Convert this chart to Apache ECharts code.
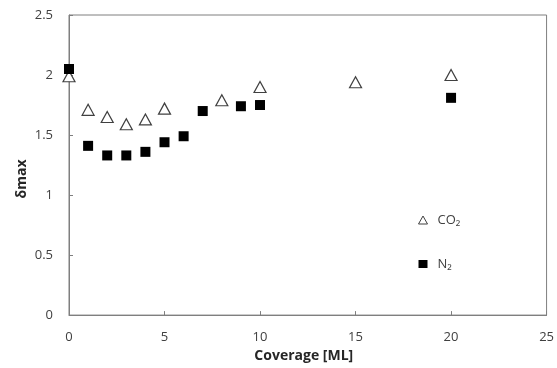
<!DOCTYPE html>
<html>
<head>
<meta charset="utf-8">
<script src="https://cdn.jsdelivr.net/npm/echarts@6/dist/echarts.min.js"></script>
<style>
html,body{margin:0;padding:0;background:#fff;}
#chart{width:557px;height:368px;}
</style>
</head>
<body>
<div id="chart"></div>
<script>
// data
var co2_x=[0,1,2,3,4,5,8,10,15,20];
var co2_y=[1.99,1.71,1.65,1.59,1.63,1.72,1.79,1.90,1.94,2.00];
var n2_x=[0,1,2,3,4,5,6,7,9,10,20];
var n2_y=[2.05,1.41,1.33,1.33,1.36,1.44,1.49,1.70,1.74,1.75,1.81];
var x_ticks=[0,5,10,15,20,25];
var y_ticks=[0,0.5,1,1.5,2,2.5];

function pairs(xs,ys){
	var out=[];
	for(var i=0;i<xs.length;i++){
		out.push([xs[i],ys[i]]);
	}
	return out;
}

var font="'Open Sans', 'Liberation Sans', sans-serif";
var myChart=echarts.init(document.getElementById('chart'),null,{renderer:'canvas'});
myChart.setOption({
	animation:false,
	backgroundColor:'#fff',
	grid:{left:69,top:15,width:480,height:303,show:true,borderColor:'#7f7f7f',borderWidth:1,backgroundColor:'transparent'},
	// y title sits a bit below the middle of the axis, so placed by hand
	graphic:[{
		type:'text',x:22,y:179,rotation:Math.PI/2,
		style:{text:'δmax',fontFamily:font,fontSize:14,fontWeight:'bold',fill:'#262626',align:'center',verticalAlign:'middle'}
	}],
	legend:{
		orient:'vertical',
		left:413,
		top:207,
		itemGap:28,
		itemWidth:9,
		itemHeight:8,
		textStyle:{fontFamily:font,fontSize:13,color:'#404040',lineHeight:16,padding:[0,0,0,5]},
		data:[{name:'CO₂',icon:'triangle',itemStyle:{color:'#fff',borderColor:'#404040',borderWidth:1}},{name:'N₂',icon:'rect'}]
	},
	xAxis:{
		type:'value',min:x_ticks[0],max:x_ticks[x_ticks.length-1],interval:5,
		name:'Coverage [ML]',nameLocation:'middle',nameGap:31,
		nameTextStyle:{fontFamily:font,fontSize:14,fontWeight:'bold',color:'#262626',padding:[0,8,0,0]},
		axisLine:{lineStyle:{color:'#7f7f7f',width:1}},
		axisTick:{inside:true,length:4,lineStyle:{color:'#7f7f7f'}},
		axisLabel:{fontFamily:font,fontSize:13,color:'#404040',margin:16},
		splitLine:{show:false}
	},
	yAxis:{
		type:'value',min:y_ticks[0],max:y_ticks[y_ticks.length-1],interval:0.5,
		axisLine:{show:true,lineStyle:{color:'#7f7f7f',width:1}},
		axisTick:{show:true,inside:true,length:4,lineStyle:{color:'#7f7f7f'}},
		axisLabel:{fontFamily:font,fontSize:13,color:'#404040',margin:16},
		splitLine:{show:false}
	},
	series:[
		{
			name:'CO₂',type:'scatter',symbol:'triangle',symbolSize:[12,11],
			itemStyle:{color:'#fff',borderColor:'#404040',borderWidth:1.2,opacity:1},
			data:pairs(co2_x,co2_y),z:2
		},
		{
			name:'N₂',type:'scatter',symbol:'rect',symbolSize:10,
			itemStyle:{color:'#000',opacity:1},
			data:pairs(n2_x,n2_y),z:3
		}
	]
});
</script>
</body>
</html>
